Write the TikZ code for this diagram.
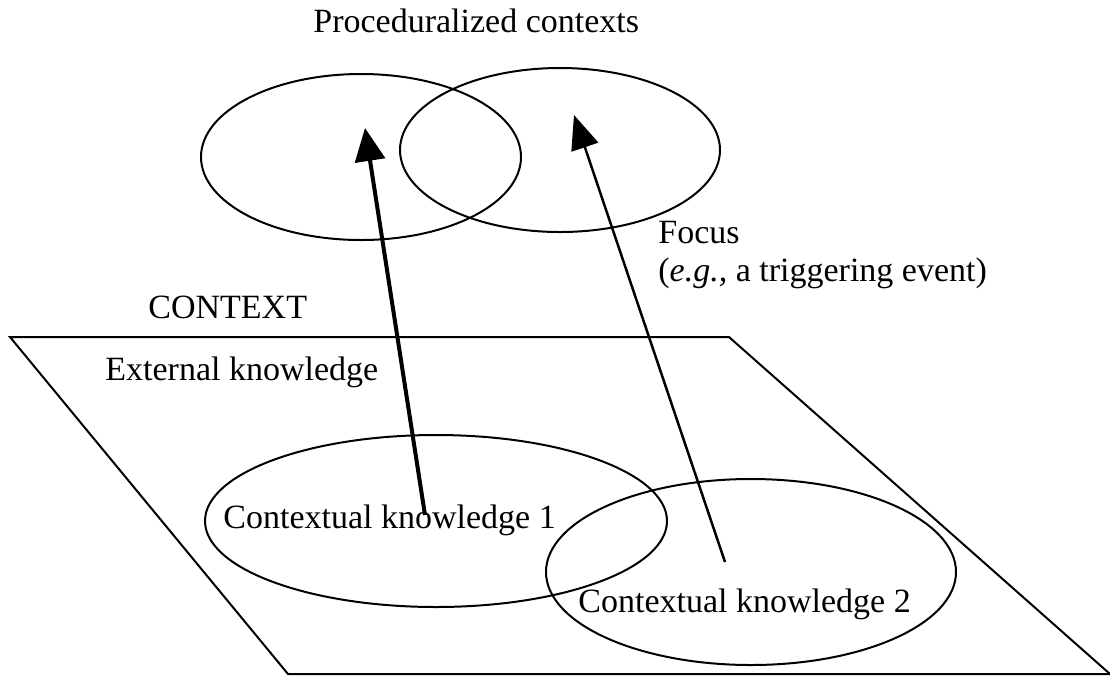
\documentclass[tikz,border=0pt]{standalone}
\usepackage{fontspec}
\setmainfont{Liberation Serif}
\usetikzlibrary{shapes.geometric,arrows.meta}
\begin{document}
\begin{tikzpicture}[x=0.5pt,y=-0.5pt,
  ell/.style={draw,ellipse,line width=1pt,inner sep=0pt},
  lbl/.style={anchor=base west,inner sep=0pt,font=\fontsize{17}{19.5}\selectfont},
  plane/.style={draw,line width=1pt,line join=miter},
  arrowthick/.style={line width=2pt,-{Triangle[length=16.5pt,width=15pt]}},
  arrowthin/.style={line width=1.25pt,-{Triangle[length=17pt,width=14pt]}}]
\useasboundingbox (0,0) rectangle (1110,677);
% context plane
\coordinate (p1) at (10,337);
\coordinate (p2) at (729,337);
\coordinate (p3) at (1110,674);
\coordinate (p4) at (288,674);
\draw[plane] (p1) -- (p2) -- (p3) -- (p4) -- cycle;
% proceduralized contexts
\node[ell,minimum width=160pt,minimum height=83pt] (pc1) at (361,157) {};
\node[ell,minimum width=160pt,minimum height=82pt] (pc2) at (560,150) {};
% contextual knowledge
\node[ell,minimum width=231pt,minimum height=86pt] (ck1) at (436,521) {};
\node[ell,minimum width=205pt,minimum height=93pt] (ck2) at (751,572) {};
% labels
\node[lbl] (title) at (313,32) {Proceduralized contexts};
\node[lbl] (focus) at (658,243) {Focus};
\node[lbl] (eg) at (658,281) {(\textit{e.g.,} a triggering event)};
\node[lbl] (ctx) at (148,318) {CONTEXT};
\node[lbl] (ext) at (105,380) {External knowledge};
\node[lbl] (ck1l) at (223,528) {Contextual knowledge 1};
\node[lbl] (ck2l) at (578,612) {Contextual knowledge 2};
% arrows
\coordinate (t1) at (425,515);
\coordinate (h1) at (365,128);
\coordinate (t2) at (725,562);
\coordinate (h2) at (574,115);
\draw[arrowthick] (t1) -- (h1);
\draw[arrowthin] (t2) -- (h2);
\end{tikzpicture}
\end{document}
